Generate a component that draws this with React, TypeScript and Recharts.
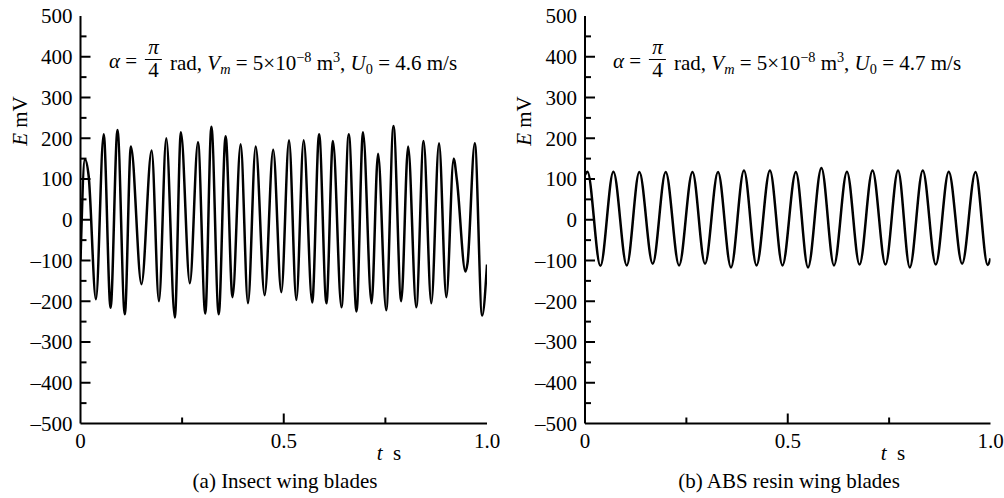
import React from 'react';
import { LineChart, Line, XAxis, YAxis } from 'recharts';

// (a) insect wing blades, U0 = 4.6 m/s — extrema
const insectT = [
  0, 0.011, 0.02, 0.038, 0.057, 0.074, 0.091, 0.109, 0.124, 0.15, 0.175, 0.193, 0.211, 0.232,
  0.247, 0.269, 0.289, 0.307, 0.322, 0.34, 0.357, 0.374, 0.394, 0.412, 0.431, 0.453, 0.474,
  0.494, 0.513, 0.531, 0.549, 0.57, 0.587, 0.605, 0.621, 0.642, 0.66, 0.679, 0.695, 0.716,
  0.732, 0.752, 0.77, 0.789, 0.806, 0.826, 0.844, 0.863, 0.882, 0.9, 0.918, 0.926, 0.947,
  0.952, 0.97, 0.988, 1.0,
];
const insectE = [
  -100, 148, 108, -195, 210, -216, 220, -232, 180, -158, 170, -200, 200, -240,
  215, -156, 190, -230, 228, -232, 205, -190, 185, -205, 180, -185, 172,
  -178, 195, -197, 195, -203, 210, -205, 193, -215, 210, -225, 215, -205,
  162, -222, 230, -200, 180, -215, 193, -205, 188, -190, 150, 97, -127,
  -107, 188, -235, -110,
];

// (b) ABS resin wing blades, U0 = 4.7 m/s
const absT = [
  0, 0.006, 0.038, 0.07, 0.103, 0.134, 0.167, 0.199, 0.232, 0.265, 0.296, 0.328, 0.36,
  0.392, 0.423, 0.456, 0.487, 0.52, 0.55, 0.583, 0.614, 0.646, 0.677, 0.709, 0.741, 0.772,
  0.801, 0.833, 0.865, 0.897, 0.93, 0.963, 0.993, 1.0,
];
const absE = [
  110, 118, -113, 118, -112, 117, -108, 117, -112, 117, -108, 117, -117,
  121, -112, 121, -112, 117, -117, 127, -112, 118, -110, 121, -110, 121,
  -117, 121, -110, 118, -108, 117, -111, -95,
];

const yTicks = [
  -500, -450, -400, -350, -300, -250, -200, -150, -100, -50, 0,
  50, 100, 150, 200, 250, 300, 350, 400, 450, 500,
];
const xTicks = [0, 0.25, 0.5, 0.75, 1];
const xTickLabels: Record<string, string> = { '0': '0', '0.5': '0.5', '1': '1.0' };

const FONT = '"Liberation Serif", "Times New Roman", serif';
const FS = 21;

const fmtY = (v: number) => (v < 0 ? `\u2013${-v}` : `${v}`);

function LeftTick({ x, y, payload }: any) {
  const v = payload.value;
  const major = v % 100 === 0;
  return (
    <g>
      {Math.abs(v) !== 500 && (
        <line x1={x} x2={x + (major ? 10 : 6)} y1={y} y2={y} stroke="#000" strokeWidth={2} />
      )}
      {major && (
        <text x={x - 8} y={y} dy="0.35em" textAnchor="end" fontSize={FS} fontFamily={FONT} fill="#000">
          {fmtY(v)}
        </text>
      )}
    </g>
  );
}

function RightTick({ x, y, payload }: any) {
  const v = payload.value;
  if (Math.abs(v) === 500) return <g />;
  const major = v % 100 === 0;
  return <line x1={x} x2={x - (major ? 10 : 6)} y1={y} y2={y} stroke="#000" strokeWidth={2} />;
}

function BottomTick({ x, y, payload }: any) {
  const v = payload.value;
  const label = xTickLabels[String(v)];
  return (
    <g>
      {v > 0 && v < 1 && (
        <line x1={x} x2={x} y1={y} y2={y - (v === 0.5 ? 10 : 6)} stroke="#000" strokeWidth={2} />
      )}
      {label && (
        <text x={x} y={y + 24} textAnchor="middle" fontSize={FS} fontFamily={FONT} fill="#000">
          {label}
        </text>
      )}
    </g>
  );
}

function TopTick({ x, y, payload }: any) {
  const v = payload.value;
  if (v <= 0 || v >= 1) return <g />;
  return <line x1={x} x2={x} y1={y} y2={y + (v === 0.5 ? 9 : 6)} stroke="#000" strokeWidth={2} />;
}

const axisLine = { stroke: '#000', strokeWidth: 2 };

function Panel({ t, e, marginLeft, marginRight }: { t: number[]; e: number[]; marginLeft: number; marginRight: number }) {
  const data = t.map((tt, i) => ({ t: tt, e: e[i] }));
  return (
    <LineChart
      width={500}
      height={498}
      data={data}
      margin={{ top: 16, right: marginRight, bottom: 44.5, left: marginLeft }}
    >
      <XAxis
        xAxisId="bottom"
        type="number"
        dataKey="t"
        domain={[0, 1]}
        ticks={xTicks}
        interval={0}
        allowDataOverflow
        height={30}
        tickSize={0}
        tickMargin={0}
        tickLine={false}
        axisLine={axisLine}
        tick={<BottomTick />}
      />
      <XAxis
        xAxisId="top"
        orientation="top"
        type="number"
        dataKey="t"
        domain={[0, 1]}
        ticks={xTicks}
        interval={0}
        allowDataOverflow
        height={0}
        tickSize={0}
        tickMargin={0}
        tickLine={false}
        axisLine={axisLine}
        tick={<TopTick />}
      />
      <YAxis
        yAxisId="left"
        type="number"
        domain={[-500, 500]}
        ticks={yTicks}
        interval={0}
        allowDataOverflow
        width={70}
        tickSize={0}
        tickMargin={0}
        tickLine={false}
        axisLine={axisLine}
        tick={<LeftTick />}
      />
      <YAxis
        yAxisId="right"
        orientation="right"
        type="number"
        domain={[-500, 500]}
        ticks={yTicks}
        interval={0}
        allowDataOverflow
        width={0}
        tickSize={0}
        tickMargin={0}
        tickLine={false}
        axisLine={axisLine}
        tick={<RightTick />}
      />
      <Line
        xAxisId="bottom"
        yAxisId="left"
        type="monotone"
        dataKey="e"
        stroke="#000"
        strokeWidth={2.5}
        dot={false}
        activeDot={false}
        isAnimationActive={false}
      />
    </LineChart>
  );
}

const sub: React.CSSProperties = { fontSize: '0.68em', position: 'relative', top: '0.32em' };
const sup: React.CSSProperties = { fontSize: '0.68em', position: 'relative', top: '-0.5em' };

function Condition({ cx, u0 }: { cx: number; u0: string }) {
  return (
    <div
      style={{
        position: 'absolute',
        left: cx,
        top: 61,
        transform: 'translate(-50%, -50%)',
        display: 'flex',
        alignItems: 'center',
        whiteSpace: 'pre',
        fontFamily: FONT,
        fontSize: FS,
        lineHeight: 1,
        color: '#000',
      }}
    >
      <span>
        <i>α</i> ={' '}
      </span>
      <span
        style={{
          display: 'inline-flex',
          flexDirection: 'column',
          alignItems: 'center',
          position: 'relative',
          top: -2,
          margin: '0 3px',
        }}
      >
        <i style={{ borderBottom: '1.5px solid #000', padding: '0 3px 1px' }}>π</i>
        <span>4</span>
      </span>
      <span style={{ position: 'relative', top: 2 }}>
        {' rad, '}
        <i>V</i>
        <i style={sub}>m</i>
        {' = 5×10'}
        <span style={sup}>{'\u22128'}</span>
        {' m'}
        <span style={sup}>3</span>
        {', '}
        <i>U</i>
        <span style={sub}>0</span>
        {` = ${u0} m/s`}
      </span>
    </div>
  );
}

const textBase: React.CSSProperties = {
  position: 'absolute',
  fontFamily: FONT,
  fontSize: FS,
  lineHeight: 1,
  whiteSpace: 'pre',
  color: '#000',
};

function Labels({ offset, caption, u0 }: { offset: number; caption: string; u0: string }) {
  return (
    <>
      <Condition cx={283 + offset} u0={u0} />
      <div style={{ ...textBase, left: 19.5 + offset, top: 121, transform: 'translate(-50%, -50%) rotate(-90deg)' }}>
        <i>E</i> mV
      </div>
      <div style={{ ...textBase, left: 389 + offset, top: 453, transform: 'translate(-50%, -50%)' }}>
        <i>t</i>{'  s'}
      </div>
      <div style={{ ...textBase, left: 285 + offset, top: 481, transform: 'translate(-50%, -50%)' }}>
        {caption}
      </div>
    </>
  );
}

export default function App() {
  return (
    <div style={{ position: 'absolute', left: 0, top: 0, width: 1004, height: 498, background: '#fff' }}>
      <div style={{ position: 'absolute', left: 0, top: 0 }}>
        <Panel t={insectT} e={insectE} marginLeft={10.5} marginRight={13} />
      </div>
      <div style={{ position: 'absolute', left: 504, top: 0 }}>
        <Panel t={absT} e={absE} marginLeft={11} marginRight={13.5} />
      </div>
      <Labels offset={0} caption="(a) Insect wing blades" u0="4.6" />
      <Labels offset={504} caption="(b) ABS resin wing blades" u0="4.7" />
    </div>
  );
}
